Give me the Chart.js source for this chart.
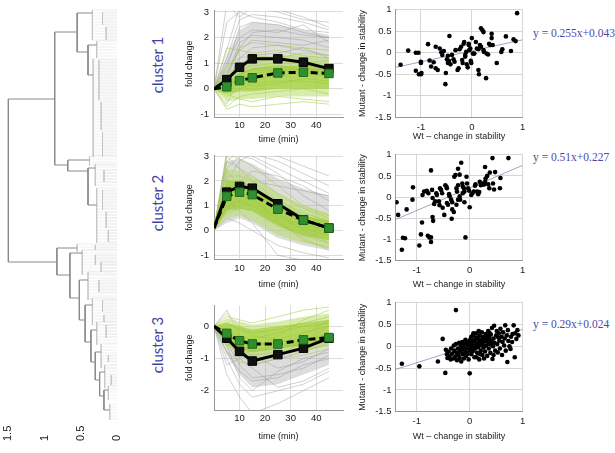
<!DOCTYPE html>
<html lang="en">
<head>
<meta charset="UTF-8">
<title>Clusters</title>
<script src="https://cdn.jsdelivr.net/npm/chart.js@4.4.0/dist/chart.umd.min.js"></script>
<style>
  body { margin:0; width:615px; height:453px; background:#fff; position:relative; overflow:hidden; }
  canvas { position:absolute; }
  .clabel { position:absolute; color:#4343a3; font:15px Lato, "Liberation Sans", sans-serif; transform:translate(-50%,-50%) rotate(-90deg); white-space:nowrap; }
  .eq { position:absolute; color:#4b4ba6; font:11.5px "Liberation Serif", "Times New Roman", serif; white-space:nowrap; }
</style>
</head>
<body>

<!-- dendrogram -->
<canvas id="dendro" width="130" height="453" style="left:0;top:0"></canvas>

<div class="clabel" style="left:157px;top:65px">cluster 1</div>
<div class="clabel" style="left:157px;top:203px">cluster 2</div>
<div class="clabel" style="left:157px;top:345px">cluster 3</div>

<!-- time courses -->
<canvas id="line1" width="170" height="148" style="left:182px;top:0"></canvas>
<canvas id="line2" width="170" height="148" style="left:182px;top:145px"></canvas>
<canvas id="line3" width="170" height="150" style="left:182px;top:295px"></canvas>

<!-- stability scatters -->
<canvas id="sc1" width="175" height="145" style="left:355px;top:0"></canvas>
<canvas id="sc2" width="175" height="148" style="left:355px;top:145px"></canvas>
<canvas id="sc3" width="175" height="152" style="left:355px;top:293px"></canvas>

<div class="eq" style="left:533px;top:27px">y = 0.255x+0.043</div>
<div class="eq" style="left:533px;top:151px">y = 0.51x+0.227</div>
<div class="eq" style="left:533px;top:318px">y = 0.29x+0.024</div>

<script>
// ---- time course data (fold change) ----
const times = [0, 5, 10, 15, 25, 35, 45];
const timeTicks = [10, 20, 30, 40];

const c1Black = [0, 0.36, 0.84, 1.17, 1.17, 1.04, 0.79];
const c1Green = [0, 0.08, 0.32, 0.43, 0.62, 0.65, 0.6];
const c1CoreLo = [0, -0.2, -0.1, -0.1, 0.0, 0.0, 0.0];
const c1CoreHi = [0, 0.3, 0.6, 0.8, 0.9, 0.9, 0.85];
const c1GreenLo = [0, -0.5, -0.4, -0.4, -0.3, -0.3, -0.3];
const c1GreenHi = [0, 0.6, 1.0, 1.2, 1.3, 1.3, 1.2];
const c1GrayLo = [0, 0.0, 0.5, 0.7, 0.7, 0.6, 0.5];
const c1GrayHi = [0, 1.3, 2.3, 2.6, 2.5, 2.3, 2.1];
const c1GrayLines = [
  [0, 1.5, 3.2, 3.3, 3.1, 2.8, 2.4],
  [0, 0.8, 2.4, 2.6, 2.5, 2.2, 2.0],
  [0, 0.5, 1.8, 2.1, 2.0, 1.9, 1.6],
  [0, 0.3, 1.2, 1.6, 1.7, 1.5, 1.3],
  [0, 2.6, 3.0, 2.8, 2.6, 2.3, 2.2],
  [0, 0.2, 0.9, 1.3, 1.4, 1.6, 1.2],
  [0, -0.6, 0.5, 1.0, 1.2, 1.0, 0.9],
  [0, 1.0, 2.0, 2.3, 2.2, 2.5, 1.8],
  [0, 3.3, 2.8, 3.2, 3.0, 2.7, 2.6],
  [0, 0.6, 1.5, 1.9, 1.8, 1.7, 1.9],
  [0, 1.2, 2.7, 2.9, 2.8, 2.6, 2.3],
  [0, 0.4, 1.6, 2.2, 2.3, 2.1, 2.0]
];
const c1GreenLines = [
  [0, 0.1, 0.4, 0.6, 0.7, 0.8, 0.7],
  [0, -0.3, 0.0, 0.2, 0.3, 0.3, 0.2],
  [0, 0.4, 0.8, 0.9, 1.0, 1.0, 1.1],
  [0, -0.7, -0.3, -0.2, -0.1, 0.0, -0.2],
  [0, 0.9, 1.2, 1.3, 1.2, 1.4, 1.3],
  [0, 0.2, 0.2, 0.4, 0.5, 0.6, 0.5],
  [0, -0.2, -0.4, -0.5, -0.3, -0.4, -0.5],
  [0, 0.5, 0.6, 0.8, 0.9, 0.7, 0.8],
  [0, 1.6, 1.5, 1.4, 1.5, 1.3, 1.2],
  [0, -0.1, 0.3, 0.1, 0.2, 0.4, 0.3],
  [0, 0.7, 1.6, 1.8, 1.7, 1.6, 1.5],
  [0, -0.8, -0.6, -0.7, -0.6, -0.5, -0.6]
];

const c2Black = [0.1, 1.55, 1.78, 1.71, 1.08, 0.43, 0.1];
const c2Green = [0.1, 1.38, 1.55, 1.45, 0.86, 0.42, 0.1];
const c2CoreLo = [0.05, 0.8, 0.9, 0.8, 0.2, -0.2, -0.4];
const c2CoreHi = [0.15, 2.0, 2.0, 1.8, 1.1, 0.6, 0.4];
const c2GreenLo = [0, 0.5, 0.6, 0.4, -0.2, -0.5, -0.7];
const c2GreenHi = [0.2, 2.5, 2.4, 2.2, 1.5, 1.0, 0.7];
const c2GrayLo = [0, 0.3, 0.5, 0.3, -0.3, -0.6, -0.8];
const c2GrayHi = [0.2, 2.8, 2.9, 2.7, 2.1, 1.7, 1.4];
const c2GrayLines = [
  [0, 3.2, 3.3, 3.0, 2.5, 2.0, 1.5],
  [0, 2.0, 2.8, 3.1, 2.8, 2.3, 1.8],
  [0, 1.0, 2.0, 2.4, 2.2, 1.8, 1.2],
  [0, 0.5, 0.3, 0.0, -0.6, -0.9, -1.1],
  [0, 3.0, 2.5, 2.0, 1.2, 0.5, 0.0],
  [0, 1.5, 1.8, 1.6, 0.7, 0.0, -0.5],
  [0, 0.8, 1.2, 1.0, 0.3, -0.3, -0.8],
  [0, 2.5, 3.0, 2.9, 2.3, 1.4, 0.8],
  [0, 1.2, 0.8, 0.3, -1.0, -1.2, -1.2],
  [0, 2.2, 2.2, 2.0, 1.8, 1.6, 1.4],
  [0, 2.8, 3.2, 3.3, 3.0, 2.6, 2.2]
];
const c2GreenLines = [
  [0.1, 1.0, 1.2, 1.0, 0.5, 0.1, -0.2],
  [0.1, 2.0, 2.0, 1.8, 1.1, 0.6, 0.3],
  [0.1, 1.5, 1.6, 1.5, 0.9, 0.4, 0.1],
  [0.1, 2.8, 2.5, 2.2, 1.5, 0.9, 0.5],
  [0.1, 0.7, 0.9, 0.8, 0.2, -0.2, -0.5],
  [0.1, 1.8, 1.4, 1.2, 0.6, 0.2, 0.0],
  [0.1, 3.1, 2.9, 2.6, 1.8, 1.0, 0.6],
  [0.1, 1.2, 1.9, 1.7, 1.2, 0.7, 0.4],
  [0.1, 0.9, 1.4, 1.3, 0.4, -0.4, -0.7],
  [0.1, 2.4, 1.8, 1.5, 1.0, 0.5, 0.2]
];

const c3Black = [0, -0.37, -0.78, -1.08, -0.88, -0.68, -0.37];
const c3Green = [0, -0.22, -0.45, -0.55, -0.55, -0.42, -0.35];
const c3CoreLo = [0, -0.45, -0.7, -0.8, -0.7, -0.6, -0.5];
const c3CoreHi = [0, 0.1, 0.0, -0.1, 0.0, 0.1, 0.2];
const c3GreenLo = [0, -0.6, -0.9, -1.0, -0.9, -0.8, -0.6];
const c3GreenHi = [0, 0.25, 0.15, 0.05, 0.15, 0.3, 0.4];
const c3GrayLo = [0, -0.9, -1.5, -1.9, -1.8, -1.5, -1.2];
const c3GrayHi = [0, -0.1, -0.5, -0.7, -0.6, -0.4, -0.2];
const c3GrayLines = [
  [0, -0.5, -1.2, -1.6, -1.5, -1.3, -0.9],
  [0, -1.0, -1.8, -2.2, -2.0, -1.8, -1.4],
  [0, -0.2, -0.8, -1.2, -1.0, -0.8, -0.5],
  [0, -1.5, -2.2, -2.7, -2.4, -2.0, -1.6],
  [0, -0.3, -0.6, -0.9, -1.3, -1.1, -0.7],
  [0, 0.5, -0.3, -1.0, -0.9, -0.5, 0.0],
  [0, -0.8, -1.4, -1.7, -1.6, -1.2, -1.0],
  [0, -0.1, -0.4, -0.6, -0.5, -0.3, 0.2],
  [0, -1.2, -1.0, -1.3, -1.9, -1.7, -1.3],
  [0, -0.6, -1.6, -2.0, -1.4, -1.0, -0.8]
];
const c3GreenLines = [
  [0, -0.3, -0.5, -0.6, -0.5, -0.4, -0.3],
  [0, 0.1, -0.1, -0.2, -0.1, 0.1, 0.3],
  [0, -0.5, -0.8, -0.9, -0.8, -0.7, -0.6],
  [0, 0.3, 0.2, 0.1, 0.3, 0.5, 0.6],
  [0, -0.1, -0.3, -0.4, -0.2, 0.0, 0.1],
  [0, -0.8, -1.1, -1.2, -1.0, -0.9, -0.7],
  [0, -0.2, -0.6, -0.8, -0.7, -0.5, -0.2],
  [0, 0.4, 0.0, -0.3, -0.4, -0.2, 0.0],
  [0, -0.6, -0.4, -0.5, -0.6, -0.6, -0.4],
  [0, -0.4, -1.0, -0.7, -0.3, 0.2, 0.5]
];

// ---- stability scatter data: [wt, mutant] ----
const stabTicksX = [-1, 0, 1];
const stabTicksY = [-1.5, -1, -0.5, 0, 0.5, 1];

const s1Points = [
  [-1.40,-0.28],[-1.25,0.05],[-1.10,0.00],[-1.05,0.00],[-1.10,-0.42],[-1.04,-0.50],[-1.00,-0.50],[-0.99,-0.47],[-1.00,-0.21],[-1.00,-0.24],
  [-0.86,0.20],[-0.83,-0.18],[-0.80,-0.32],[-0.75,-0.22],[-0.71,0.14],[-0.71,-0.36],[-0.67,-0.40],[-0.63,0.10],[-0.60,0.01],[-0.58,-0.05],
  [-0.55,0.04],[-0.52,-0.73],[-0.51,-0.47],[-0.49,-0.15],[-0.47,-0.24],[-0.45,-0.19],[-0.47,-0.07],[-0.44,0.39],[-0.42,-0.27],[-0.39,-0.05],
  [-0.36,-0.15],[-0.34,-0.21],[-0.32,0.06],[-0.28,-0.40],[-0.26,-0.36],[-0.24,0.08],[-0.21,0.14],[-0.19,-0.17],[-0.18,-0.24],[-0.16,0.21],
  [-0.15,0.25],[-0.13,-0.05],[-0.13,-0.09],[-0.11,0.02],[-0.10,-0.27],[-0.08,-0.34],[-0.06,0.21],[-0.06,0.18],[-0.05,0.06],[-0.03,0.10],
  [-0.02,-0.19],[-0.01,-0.24],[0.00,0.34],[0.02,-0.02],[0.05,-0.02],[0.08,0.25],[0.10,0.10],[0.13,0.08],[0.13,-0.40],[0.14,-0.50],
  [0.16,0.18],[0.18,0.14],[0.18,0.57],[0.21,0.52],[0.23,0.48],[0.23,0.06],[0.24,0.02],[0.28,-0.59],[0.29,-0.02],[0.32,-0.04],
  [0.34,0.21],[0.36,0.18],[0.39,0.44],[0.39,0.34],[0.41,0.18],[0.49,-0.24],[0.58,0.02],[0.60,0.08],[0.67,0.38],[0.77,0.04],
  [0.82,0.31],[0.86,0.27],[0.89,0.92]
];
const s2Points = [
  [-1.38,-0.12],[-1.35,-0.42],[-1.28,-1.24],[-1.26,-0.96],[-1.22,-0.97],[-1.19,-0.29],[-1.08,-0.06],[-1.07,0.23],[-0.95,-1.14],[-0.92,-0.88],
  [-0.90,-0.60],[-0.89,0.05],[-0.86,0.13],[-0.81,0.15],[-0.78,0.09],[-0.79,-0.91],[-0.76,-0.95],[-0.73,-0.95],[-0.73,0.63],[-0.73,-1.06],
  [-0.71,0.17],[-0.70,-0.02],[-0.70,-0.47],[-0.69,-0.56],[-0.67,-0.16],[-0.65,-0.10],[-0.63,0.09],[-0.62,0.05],[-0.58,-0.10],[-0.57,-0.19],
  [-0.56,0.21],[-0.54,0.17],[-0.52,0.09],[-0.51,-0.25],[-0.48,-0.42],[-0.46,0.28],[-0.44,0.25],[-0.43,0.21],[-0.43,-0.14],[-0.41,-0.18],
  [-0.39,0.07],[-0.38,0.02],[-0.35,-0.06],[-0.33,-0.12],[-0.33,-0.29],[-0.30,-0.35],[-0.34,-0.51],[-0.29,0.48],[-0.27,0.52],[-0.25,0.21],
  [-0.24,0.13],[-0.22,0.28],[-0.25,-0.18],[-0.22,-0.06],[-0.22,0.67],[-0.19,0.53],[-0.19,0.02],[-0.18,-0.06],[-0.16,0.81],[-0.14,0.32],
  [-0.13,0.25],[-0.11,0.21],[-0.13,0.09],[-0.10,0.13],[-0.10,-0.12],[-0.08,-0.95],[-0.06,0.48],[-0.05,0.32],[-0.03,0.21],[-0.01,0.15],
  [0.00,-0.24],[0.03,0.05],[0.05,0.09],[0.08,0.13],[0.10,0.27],[0.11,0.30],[0.14,0.13],[0.16,0.07],[0.18,0.12],[0.19,0.36],
  [0.21,0.28],[0.23,0.32],[0.25,0.30],[0.27,0.30],[0.29,0.36],[0.29,0.71],[0.30,0.44],[0.33,0.50],[0.35,0.30],[0.37,0.21],
  [0.38,0.58],[0.43,0.92],[0.44,0.32],[0.46,0.18],[0.48,0.59],[0.57,0.21],[0.58,0.45],[0.73,0.92]
];
const s3Points = [
  [-1.28,-0.40],[-0.95,-0.46],[-0.60,-0.35],[-0.51,0.17],[-0.46,-0.61],[-0.26,0.83],[0.00,-0.62],
  [-0.45,-0.08],[-0.43,-0.18],[-0.42,-0.27],[-0.40,-0.12],[-0.38,-0.22],[-0.36,-0.30],[-0.35,-0.05],[-0.33,-0.17],[-0.31,-0.28],[-0.30,0.02],
  [-0.29,-0.10],[-0.27,-0.24],[-0.26,0.05],[-0.25,-0.15],[-0.24,-0.32],[-0.22,-0.05],[-0.21,-0.20],[-0.20,0.08],[-0.19,-0.27],[-0.18,-0.12],
  [-0.17,0.02],[-0.16,-0.35],[-0.15,-0.07],[-0.14,0.10],[-0.13,-0.18],[-0.12,-0.02],[-0.11,-0.28],[-0.10,0.05],[-0.09,-0.12],[-0.08,0.15],
  [-0.07,-0.22],[-0.06,-0.05],[-0.05,0.08],[-0.04,-0.15],[-0.03,0.02],[-0.02,-0.30],[-0.01,0.12],
  [0.00,-0.08],[0.01,0.05],[0.02,0.18],[0.03,-0.18],[0.04,-0.02],[0.05,0.10],[0.06,0.25],[0.07,-0.10],[0.08,0.02],[0.09,-0.25],
  [0.10,0.15],[0.11,-0.05],[0.12,0.30],[0.13,0.06],[0.14,-0.15],[0.15,0.20],[0.16,-0.02],[0.17,0.10],[0.18,-0.30],[0.19,0.25],
  [0.20,0.03],[0.21,-0.10],[0.22,0.15],[0.23,0.32],[0.24,-0.20],[0.25,0.08],[0.26,-0.03],[0.27,0.22],[0.28,0.12],[0.29,-0.12],
  [0.30,0.28],[0.31,0.02],[0.32,0.18],[0.33,-0.22],[0.34,0.10],[0.35,0.35],[0.36,-0.05],[0.37,0.20],[0.38,0.05],[0.39,-0.15],
  [0.40,0.27],[0.41,0.12],[0.42,0.42],[0.43,-0.29],[0.44,0.00],[0.45,0.18],[0.46,0.47],[0.47,0.08],[0.48,-0.10],[0.50,0.25],
  [0.51,0.35],[0.52,0.05],[0.53,-0.14],[0.54,0.20],[0.55,0.30],[0.56,0.13],[0.57,-0.05],[0.58,0.40],[0.60,0.22],[0.61,-0.20],
  [0.62,0.10],[0.63,0.32],[0.65,0.02],[0.66,0.18],[0.67,0.48],[0.68,-0.10],[0.70,0.25],[0.71,-0.36],[0.72,0.37],[0.73,0.12],
  [0.75,0.00],[0.77,-0.06],[0.78,0.22],[0.80,0.10],[0.81,0.28],[0.83,0.48],[0.85,-0.25],[0.86,0.30],[0.88,0.17],[0.90,0.37],[0.92,0.25],
  [0.02,0.00],[0.05,-0.12],[0.08,0.12],[0.10,-0.02],[0.12,0.20],[0.15,0.05],[0.18,0.14],[0.20,-0.18],[0.22,0.05],[0.25,0.20],
  [0.28,0.00],[0.30,0.12],[0.33,0.24],[0.35,0.15],[0.38,0.30],[-0.05,-0.18],[0.00,0.10],[0.03,0.22],[0.07,0.30],[0.13,-0.25],
  [0.17,0.35],[0.27,-0.28],[0.40,0.05],[0.45,-0.20]
];
// fitted lines as they appear, [wt, mutant] at the ends
const fit1 = [[-1.5, -0.34], [1, 0.30]];
const fit2 = [[-1.4, -0.53], [1, 0.75]];
const fit3 = [[-1.4, -0.53], [1, 0.39]];

// ---- dendrogram: leaf position (top to bottom) vs height ----
const dendTicks = [0, 0.5, 1, 1.5];
// U-shaped links: [posA, posB, height, heightA, heightB]
const dendLinks = [
  [99, 262, 1.50, 0.86, 0.83],
  [32, 165, 0.86, 0.55, 0.68],
  [248, 275, 0.83, 0.55, 0.65],
  [13, 52, 0.55, 0.34, 0.40],
  [45, 75, 0.40, 0.28, 0.33],
  [160, 171, 0.68, 0.38, 0.40],
  [168, 205, 0.40, 0.30, 0.28],
  [253, 298, 0.65, 0.48, 0.52],
  [280, 320, 0.52, 0.40, 0.44],
  [305, 342, 0.44, 0.34, 0.36],
  [330, 362, 0.36, 0.28, 0.30],
  [352, 380, 0.30, 0.22, 0.24],
  [372, 396, 0.24, 0.17, 0.18],
  [390, 410, 0.18, 0.12, 0.10]
];
// leaf groups: [firstLeaf, lastLeaf, joinHeight]
const dendGroups = [
  [10, 40, 0.34], [12, 25, 0.20], [27, 40, 0.15],
  [41, 58, 0.28], [59, 157, 0.33], [60, 100, 0.25], [102, 130, 0.22], [132, 157, 0.20],
  [156, 166, 0.38], [164, 186, 0.30], [170, 182, 0.18], [188, 243, 0.28],
  [190, 210, 0.20], [212, 228, 0.15], [230, 242, 0.12],
  [244, 252, 0.55], [245, 250, 0.30], [250, 275, 0.48], [255, 265, 0.30], [262, 272, 0.22],
  [272, 300, 0.40], [280, 292, 0.25], [298, 325, 0.34], [300, 312, 0.20], [315, 322, 0.18],
  [322, 345, 0.28], [325, 338, 0.15], [344, 368, 0.22], [355, 362, 0.12],
  [365, 388, 0.17], [375, 385, 0.08], [386, 400, 0.12], [404, 420, 0.10]
];

Chart.defaults.font.family = '"Liberation Sans", Arial, sans-serif';
Chart.defaults.color = '#222';
Chart.defaults.animation = false;
Chart.defaults.plugins.legend.display = false;
Chart.defaults.plugins.tooltip.enabled = false;

const GAP = {x: null, y: null};

function setTicks(values) {
  return scale => { scale.ticks = values.map(v => ({value: v})); };
}
const plainLabel = v => String(v);

// ---------- dendrogram ----------
function linkPts() {
  const p = [];
  dendLinks.forEach(([a, b, h, ha, hb]) => {
    p.push({x: ha, y: a}, {x: h, y: a}, {x: h, y: b}, {x: hb, y: b}, GAP);
  });
  return p;
}
function groupPts() {
  const p = [];
  dendGroups.forEach(([a, b, h]) => { p.push({x: h, y: a}, {x: h, y: b}, GAP); });
  return p;
}
function leafPts() {
  const p = [];
  dendGroups.forEach(([a, b, h]) => {
    for (let r = a; r <= b; r += 3) p.push({x: h, y: r}, {x: 0, y: r}, GAP);
  });
  return p;
}

new Chart(document.getElementById('dendro'), {
  type: 'scatter',
  data: {
    datasets: [
      {data: linkPts(), showLine: true, borderColor: '#8a8a8a', borderWidth: 1, pointRadius: 0, order: 0},
      {data: groupPts(), showLine: true, borderColor: '#c2c2c2', borderWidth: 0.7, pointRadius: 0, order: 1},
      {data: leafPts(), showLine: true, borderColor: '#dedede', borderWidth: 0.5, pointRadius: 0, order: 2}
    ]
  },
  options: {
    responsive: false,
    layout: {padding: {left: 4, right: 13, top: 0, bottom: 0}},
    scales: {
      x: {type: 'linear', min: 0, max: 1.56, reverse: true,
          grid: {display: false}, border: {display: false}, ticks: {display: false},
          afterFit: s => { s.height = 31; }},
      y: {type: 'linear', min: 0, max: 422, reverse: true, display: false}
    }
  },
  plugins: [{
    id: 'rotTicks',
    afterDraw(chart) {
      const ctx = chart.ctx, xs = chart.scales.x;
      ctx.save();
      ctx.fillStyle = '#222';
      ctx.font = '11px "Liberation Sans", Arial, sans-serif';
      ctx.textAlign = 'left';
      ctx.textBaseline = 'middle';
      dendTicks.forEach(v => {
        ctx.save();
        ctx.translate(xs.getPixelForValue(v), 441);
        ctx.rotate(-Math.PI / 2);
        ctx.fillText(String(v), 0, 0);
        ctx.restore();
      });
      ctx.restore();
    }
  }]
});

// ---------- time course panels ----------
function xy(vals) { return vals.map((v, i) => ({x: times[i], y: v})); }

function band(ds, lo, hi, color, order) {
  ds.push({data: xy(lo), borderWidth: 0, pointRadius: 0, fill: false, order: order});
  ds.push({data: xy(hi), borderWidth: 0, pointRadius: 0, fill: '-1', backgroundColor: color, order: order});
}

function timeCourse(id, padTop, xHeight, yMin, yMax, yTicks, black, green, cLo, cHi, gLo, gHi, grLo, grHi, grayLines, greenLines) {
  const ds = [];
  const markR = black.map((v, i) => i === 0 ? 0 : 6);
  ds.push({data: xy(green), borderColor: '#000', borderWidth: 3, borderDash: [7, 4],
           pointStyle: 'rect', pointRadius: markR, pointBackgroundColor: '#2f8f2f',
           pointBorderColor: '#1e6a1e', pointBorderWidth: 1, order: 0});
  ds.push({data: xy(black), borderColor: '#000', borderWidth: 3,
           pointStyle: 'rect', pointRadius: markR, pointBackgroundColor: '#111',
           pointBorderColor: '#000', pointBorderWidth: 1, order: 1});
  band(ds, cLo, cHi, 'rgba(150,200,30,0.55)', 2);
  greenLines.forEach(l => ds.push({data: xy(l), borderColor: 'rgba(160,205,60,0.9)', borderWidth: 0.6, pointRadius: 0, order: 3}));
  band(ds, gLo, gHi, 'rgba(185,220,110,0.55)', 4);
  grayLines.forEach(l => ds.push({data: xy(l), borderColor: 'rgba(150,150,150,0.75)', borderWidth: 0.6, pointRadius: 0, order: 5}));
  band(ds, grLo, grHi, 'rgba(170,170,170,0.4)', 6);

  new Chart(document.getElementById(id), {
    type: 'line',
    data: {datasets: ds},
    options: {
      responsive: false,
      layout: {padding: {left: 0, right: 9, top: padTop, bottom: 0}},
      scales: {
        x: {type: 'linear', min: 0, max: 50.5,
            afterBuildTicks: setTicks(timeTicks),
            grid: {color: '#dcdcdc', drawTicks: false}, border: {color: '#999'},
            ticks: {font: {size: 9.5}, padding: 3, callback: plainLabel},
            title: {display: true, text: 'time (min)', font: {size: 9}, padding: {top: 1, bottom: 3}},
            afterFit: s => { s.height = xHeight; }},
        y: {type: 'linear', min: yMin, max: yMax,
            afterBuildTicks: setTicks(yTicks),
            grid: {color: '#dcdcdc', drawTicks: false}, border: {color: '#999'},
            ticks: {font: {size: 9.5}, padding: 5, callback: plainLabel},
            title: {display: true, text: 'fold change', font: {size: 9}, padding: {top: 2, bottom: 2}},
            afterFit: s => { s.width = 32; }}
      }
    }
  });
}

timeCourse('line1', 10, 31, -1.1, 3.05, [-1, 0, 1, 2, 3], c1Black, c1Green,
           c1CoreLo, c1CoreHi, c1GreenLo, c1GreenHi, c1GrayLo, c1GrayHi, c1GrayLines, c1GreenLines);
timeCourse('line2', 7.7, 33.7, -1.16, 3.02, [-1, 0, 1, 2, 3], c2Black, c2Green,
           c2CoreLo, c2CoreHi, c2GreenLo, c2GreenHi, c2GrayLo, c2GrayHi, c2GrayLines, c2GreenLines);
timeCourse('line3', 8.3, 35, -2.6, 0.64, [-2, -1, 0], c3Black, c3Green,
           c3CoreLo, c3CoreHi, c3GreenLo, c3GreenHi, c3GrayLo, c3GrayHi, c3GrayLines, c3GreenLines);

// ---------- stability scatters ----------
function pts(list) { return list.map(([x, y]) => ({x: x, y: y})); }

function stability(id, padTop, xHeight, xMin, points, fit) {
  new Chart(document.getElementById(id), {
    type: 'scatter',
    data: {
      datasets: [
        {data: pts(points), pointRadius: 2.3, pointBackgroundColor: '#000', pointBorderWidth: 0, order: 0},
        {data: pts(fit), showLine: true, borderColor: '#8c8cb4', borderWidth: 0.8, pointRadius: 0, order: 1}
      ]
    },
    options: {
      responsive: false,
      layout: {padding: {left: 0, right: 7.3, top: padTop, bottom: 0}},
      scales: {
        x: {type: 'linear', min: xMin, max: 1,
            afterBuildTicks: setTicks(stabTicksX),
            grid: {color: '#d6d6d6', drawTicks: false}, border: {color: '#999'},
            ticks: {font: {size: 9.5}, padding: 4, callback: plainLabel},
            title: {display: true, text: 'Wt \u2013 change in stability', font: {size: 9}, padding: {top: 1, bottom: 3}},
            afterFit: s => { s.height = xHeight; }},
        y: {type: 'linear', min: -1.5, max: 1,
            afterBuildTicks: setTicks(stabTicksY),
            grid: {color: '#d6d6d6', drawTicks: false}, border: {color: '#999'},
            ticks: {font: {size: 9.5}, padding: 4, callback: plainLabel},
            title: {display: true, text: 'Mutant - change in stability', font: {size: 9}, padding: {top: 2, bottom: 2}},
            afterFit: s => { s.width = 40.5; }}
      }
    }
  });
}

stability('sc1', 7.3, 27.7, -1.5, s1Points, fit1);
stability('sc2', 7.3, 32.3, -1.4, s2Points, fit2);
stability('sc3', 8, 33.3, -1.4, s3Points, fit3);
</script>
</body>
</html>
